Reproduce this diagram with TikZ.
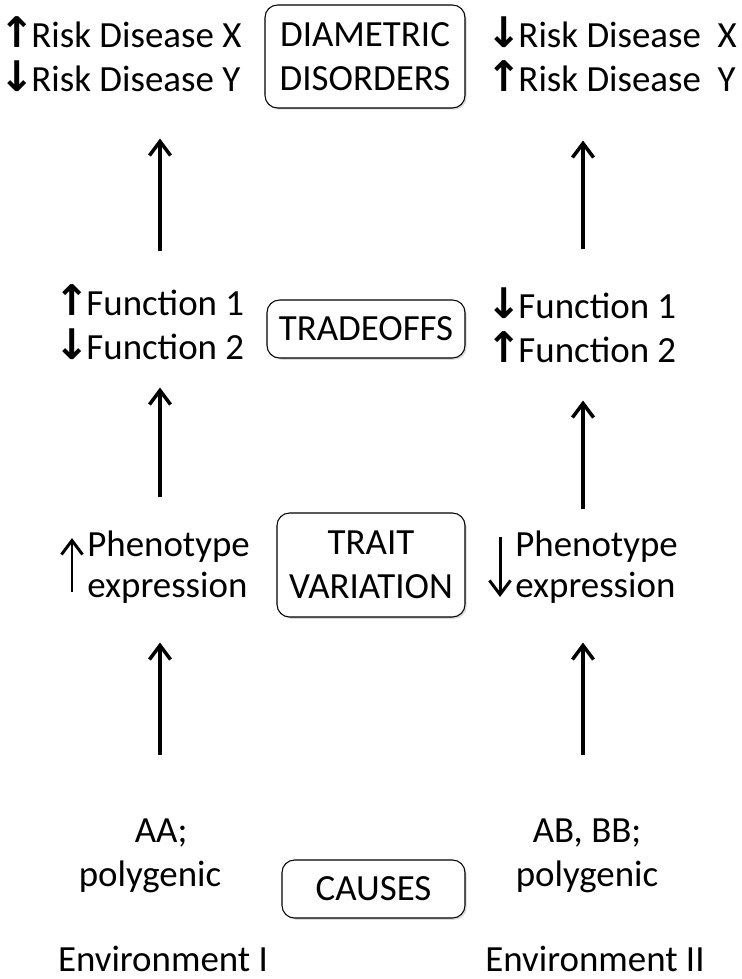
\documentclass[tikz,border=0pt]{standalone}
\usepackage{fontspec}
\setmainfont{Carlito}
\newfontfamily\arrowfont{DejaVu Sans}
\usetikzlibrary{arrows.meta,shadows}
\newcommand{\upar}{\makebox[16pt]{\arrowfont\bfseries\fontsize{24}{25}\selectfont ↑}}
\newcommand{\downar}{\makebox[16pt]{\arrowfont\bfseries\fontsize{24}{25}\selectfont ↓}}

\begin{document}
\begin{tikzpicture}
                [
                x=0.02cm,y=-0.02cm,
                every node/.style={font=\fontsize{21}{25}\selectfont},
                levelbox/.style={draw,fill=white,rounded corners=0.25cm,line width=0.6pt,
                    align=center,inner sep=0pt,
                    drop shadow={opacity=0.3,shadow xshift=1pt,shadow yshift=-1pt}},
                effect/.style={align=left,anchor=west,inner sep=0pt},
                geno/.style={align=center,inner sep=0pt},
                edge/.style={-{Straight Barb[length=8pt,width=12pt]},line width=2pt}
                ]
            \useasboundingbox (0,0) rectangle (742,979);
            % levels
            \node[levelbox,minimum width=4cm,minimum height=2.06cm] (dd) at (365,56.5) {DIAMETRIC\\DISORDERS};
            \node[levelbox,minimum width=3.96cm,minimum height=1.16cm] (to) at (366,329) {TRADEOFFS};
            \node[levelbox,minimum width=3.76cm,minimum height=2.08cm] (tv) at (371,565) {TRAIT\\VARIATION};
            \node[levelbox,minimum width=3.66cm,minimum height=1.16cm] (ca) at (373.5,889) {CAUSES};
            % environment I and II
            \node[effect] (riskL) at (3,54.5) {\upar Risk Disease X\\\downar Risk Disease Y};
            \node[effect] (riskR) at (490,54.5) {\downar Risk Disease\ \ X\\\upar Risk Disease\ \ Y};
            \node[effect] (funcL) at (58,322) {\upar Function 1\\\downar Function 2};
            \node[effect] (funcR) at (490,325) {\downar Function 1\\\upar Function 2};
            \node[effect,font=\fontsize{21}{23}\selectfont] (phenL) at (87,567) {Phenotype\\expression};
            \node[effect,font=\fontsize{21}{23}\selectfont] (phenR) at (515,567) {Phenotype\\expression};
            \node[geno] (genoL) at (150,856) {\hspace*{0.6em}AA;\\polygenic};
            \node[geno] (genoR) at (587,856) {AB, BB;\\polygenic};
            \node[geno] (envL) at (163,959) {Environment I};
            \node[geno] (envR) at (595,959) {Environment II};
            \coordinate (colL) at (160,0);
            \coordinate (colR) at (583,0);
            \draw[edge,shorten <=2.1cm,shorten >=0.5cm] (ca.north -| colL) -- (tv.south -| colL);
            \draw[edge,shorten <=2.1cm,shorten >=0.5cm] (ca.north -| colR) -- (tv.south -| colR);
            \draw[edge,shorten <=0.3cm,shorten >=0.58cm] (tv.north -| colL) -- (to.south -| colL);
            \draw[edge,shorten <=0.06cm,shorten >=0.84cm] (tv.north -| colR) -- (to.south -| colR);
            \draw[edge,shorten <=0.96cm,shorten >=0.6cm] (to.north -| colL) -- (dd.south -| colL);
            \draw[edge,shorten <=1cm,shorten >=0.64cm] (to.north -| colR) -- (dd.south -| colR);
            \draw[edge,line width=1.7pt] ([xshift=-0.3cm,yshift=-0.5cm]phenL.west) -- ([xshift=-0.3cm,yshift=0.58cm]phenL.west);
            \draw[edge,line width=1.7pt] ([xshift=-0.3cm,yshift=0.6cm]phenR.west) -- ([xshift=-0.3cm,yshift=-0.6cm]phenR.west);
            \end{tikzpicture}
\end{document}
